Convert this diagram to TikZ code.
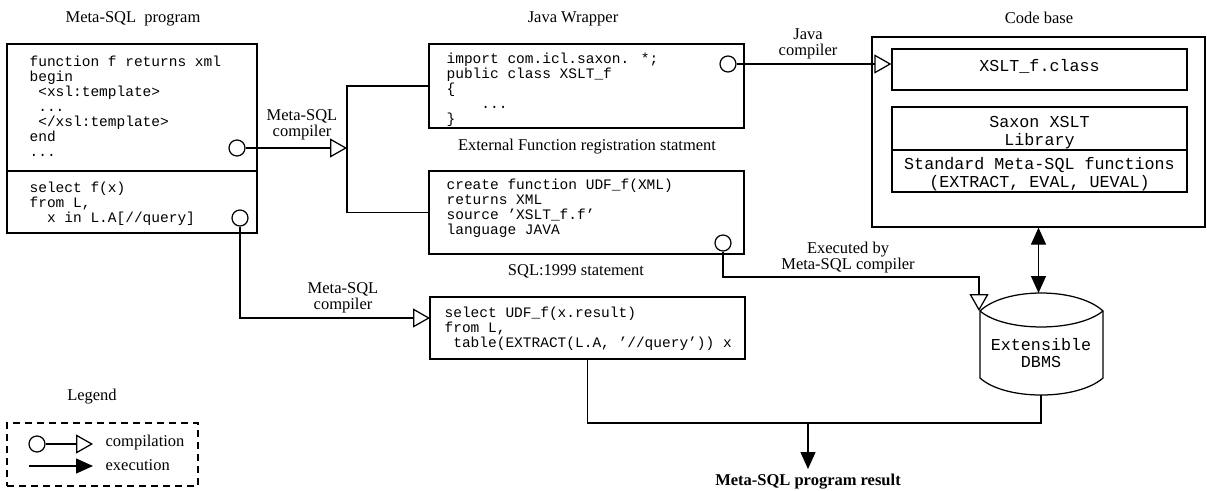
\documentclass[tikz,border=0pt]{standalone}
\usepackage{fontspec}
\setmainfont{Liberation Serif}
\newfontfamily\cw{Liberation Mono}
\usetikzlibrary{arrows.meta}
\newcommand\ind{\phantom{x}}
\newcommand\codelines[1]{\begin{tabular}[t]{@{}l@{}}#1\end{tabular}}
\begin{document}
\begin{tikzpicture}[x=1pt,y=-1pt,line width=1.25pt,
  box/.style={draw, inner sep=0, fill=white},
  port/.style={draw, circle, minimum size=16pt, inner sep=0, fill=white},
  comp/.style={-{Triangle[open,length=17pt,width=19pt]}},
  exe/.style={-{Triangle[length=17pt,width=15pt]}},
  lbl/.style={font=\fontsize{16.5}{16}\selectfont, align=center, inner sep=0},
  code/.style={font=\cw\fontsize{14.5}{15}\selectfont, anchor=base west, inner sep=0},
  bigcode/.style={font=\cw\fontsize{16.7}{18}\selectfont, align=center, inner sep=0}]
\useasboundingbox (0,0) rectangle (1207,490);

% titles
\node[lbl] (tprog) at (133,19) {Meta-SQL\ \ program};
\node[lbl] (tjava) at (573,19) {Java Wrapper};
\node[lbl] (tcode) at (1039,18) {Code base};

% Meta-SQL program
\node[box, minimum width=250pt, minimum height=127pt] (progA) at (132,107.5) {};
\node[box, minimum width=250pt, minimum height=62pt] (progB) at (132,202) {};
\node[code] (progAt) at (29,66) {\codelines{function f returns xml\\begin\\\ind<xsl:template>\\\ind...\\\ind</xsl:template>\\end\\...}};
\node[code] (progBt) at (29,192) {\codelines{select f(x)\\from L,\\\ind\ind x in L.A[//query]}};
\node[port] (c1) at (237,148) {};
\node[port] (c2) at (240,218) {};

% Java wrapper
\node[box, minimum width=315pt, minimum height=84pt] (jw) at (586.5,86) {};
\node[code] (jwt) at (446,63) {\codelines{import com.icl.saxon. *;\\public class XSLT\_f\\\{\\\ind\ind\ind\ind...\\\}}};
\node[port] (c3) at (728,64) {};

\node[lbl] (treg) at (587,147) {External Function registration statment};

% registration
\node[box, minimum width=315pt, minimum height=83pt] (reg) at (586.5,212.5) {};
\node[code] (regt) at (446,189) {\codelines{create function UDF\_f(XML)\\returns XML\\source ’XSLT\_f.f’\\language JAVA}};
\node[port] (c4) at (723,243) {};

\node[lbl] (tsql) at (576,271) {SQL:1999 statement};

% select
\node[box, minimum width=315pt, minimum height=62pt] (sel) at (587.5,328) {};
\node[code] (selt) at (444,317) {\codelines{select UDF\_f(x.result)\\from L,\\\ind table(EXTRACT(L.A, ’//query’)) x}};

% code base
\node[box, minimum width=333pt, minimum height=190pt] (cb) at (1038.5,132) {};
\node[box, minimum width=295pt, minimum height=41pt] (xslt) at (1039.5,69.5) {};
\node[bigcode] (xsltt) at (1039.5,66) {XSLT\_f.class};
\node[box, minimum width=295pt, minimum height=43pt] (sax) at (1039.5,128.5) {};
\node[bigcode] (saxt) at (1039.5,133) {Saxon XSLT\\Library};
\node[box, minimum width=295pt, minimum height=42pt] (std) at (1039.5,171) {};
\node[bigcode] (stdt) at (1039.5,174) {Standard Meta-SQL functions\\(EXTRACT, EVAL, UEVAL)};

% DBMS
\coordinate (dA) at (980,311);
\coordinate (dB) at (1103,311);
\coordinate (dC) at (1103,378);
\coordinate (dD) at (980,378);
\coordinate (dtop) at (1041,293);
\coordinate (dbot) at (1041,395);
\draw[fill=white] (dA) .. controls (1005,287) and (1077,287) .. (dB) -- (dC)
   .. controls (1077,400.7) and (1005,400.7) .. (dD) -- cycle;
\draw (dA) .. controls (1005,332.3) and (1077,332.3) .. (dB);
\node[bigcode, font=\cw\fontsize{16.7}{17}\selectfont] (dbms) at (1041,353) {Extensible\\DBMS};

% connectors
\coordinate (bk) at (347,148);
\draw[comp] (c1) -- (bk);
\draw (jw.west) -| (bk) |- (reg.west);
\node[lbl] (lmc1) at (302,125) {Meta-SQL\\compiler};

\coordinate (selin) at (430,318);
\draw[comp] (c2) |- (selin);
\node[lbl] (lmc2) at (343,298) {Meta-SQL\\compiler};

\draw[comp] (c3) -- (c3 -| xslt.west);
\node[lbl] (ljc) at (808,44) {Java\\compiler};

\coordinate (ek) at (979,277);
\coordinate (dtl) at (979,311);
\draw[comp] (c4) |- (ek) -- (dtl);
\node[lbl] (lex) at (848,258) {Executed by\\Meta-SQL compiler};

\draw[{Triangle[length=17pt,width=15pt]}-{Triangle[length=17pt,width=15pt]}] (cb.south) -- (cb.south |- dtop);

\coordinate (mj) at (808,423);
\coordinate (rt) at (808,469);
\draw (dbot) |- (mj) -| (sel.south);
\draw[exe] (mj) -- (rt);
\node[lbl, font=\bfseries\fontsize{16.5}{16}\selectfont] (res) at (808,482) {Meta-SQL program result};

% legend
\node[lbl] (legt) at (92,397) {Legend};
\node[box, dash pattern=on 7pt off 5pt, minimum width=191pt, minimum height=63pt] (leg) at (102.5,454.5) {};
\node[port] (cl) at (37,444) {};
\coordinate (lt1) at (93,444);
\draw[comp] (cl) -- (lt1);
\node[lbl, anchor=west] (lc) at (105,443) {compilation};
\coordinate (le0) at (29,466);
\coordinate (le1) at (93,466);
\draw[exe] (le0) -- (le1);
\node[lbl, anchor=west] (lx) at (105,465) {execution};
\end{tikzpicture}
\end{document}
